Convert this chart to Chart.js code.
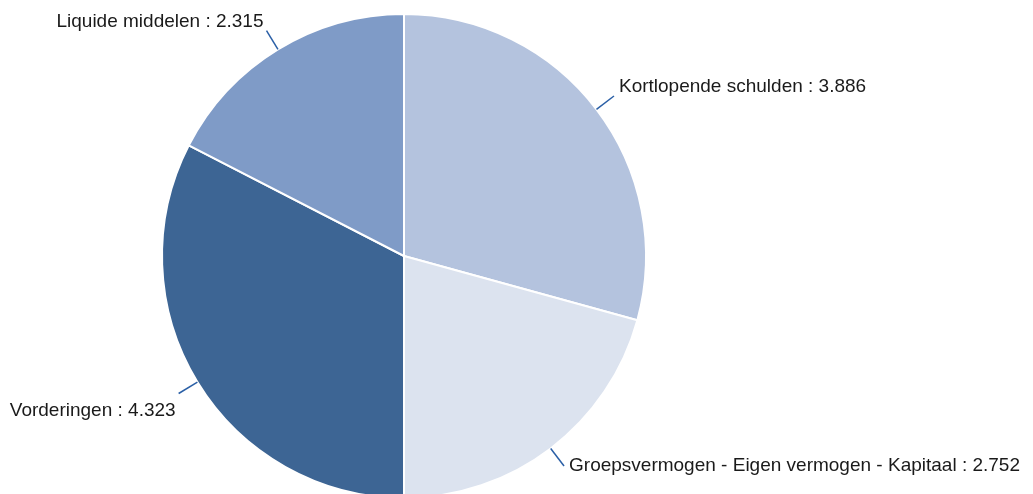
<!DOCTYPE html>
<html>
<head>
<meta charset="utf-8">
<script src="https://cdn.jsdelivr.net/npm/chart.js@4.4.1/dist/chart.umd.min.js"></script>
<style>
html,body{margin:0;padding:0;background:#fff;overflow:hidden;}
#wrap{position:relative;width:1033px;height:504px;}
</style>
</head>
<body>
<div id="wrap"><canvas id="c"></canvas></div>
<script>
const categories = ["Kortlopende schulden", "Groepsvermogen - Eigen vermogen - Kapitaal", "Vorderingen", "Liquide middelen"];
const values = [3.886, 2.752, 4.323, 2.315];
const valueLabels = ["3.886", "2.752", "4.323", "2.315"];
const colors = ["#b4c3de", "#dce3ef", "#3d6594", "#7f9bc7"];

const labelPlugin = {
  id: 'leaderLabels',
  afterDatasetsDraw(chart) {
    const ctx = chart.ctx;
    const meta = chart.getDatasetMeta(0);
    ctx.save();
    ctx.font = '19px "Liberation Sans", Arial, sans-serif';
    meta.data.forEach((arc, i) => {
      const p = arc.getProps(['x','y','startAngle','endAngle','outerRadius'], true);
      const mid = (p.startAngle + p.endAngle) / 2;
      const cx = Math.cos(mid), cy = Math.sin(mid);
      const r0 = p.outerRadius, r1 = p.outerRadius + 22;
      const x0 = p.x + cx * r0, y0 = p.y + cy * r0;
      const x1 = p.x + cx * r1, y1 = p.y + cy * r1;
      ctx.strokeStyle = '#2a5fa6';
      ctx.lineWidth = 1.5;
      ctx.beginPath(); ctx.moveTo(x0, y0); ctx.lineTo(x1, y1); ctx.stroke();
      const right = cx >= 0;
      const upper = cy < 0;
      let ty = y1 + (upper ? -9 : 17);
      ty = Math.min(ty, 466);
      ctx.fillStyle = '#1a1a1a';
      ctx.textBaseline = 'middle';
      ctx.textAlign = right ? 'left' : 'right';
      const tx = right ? x1 + 5 : x1 - 3;
      ctx.fillText(categories[i] + ' : ' + valueLabels[i], tx, ty);
    });
    ctx.restore();
  }
};

new Chart(document.getElementById('c'), {
  type: 'pie',
  data: {
    labels: categories,
    datasets: [{
      data: values,
      backgroundColor: colors,
      borderColor: '#ffffff',
      borderWidth: 2,
      hoverOffset: 0
    }]
  },
  options: {
    responsive: true,
    maintainAspectRatio: false,
    animation: false,
    layout: { padding: { left: 161, right: 386, top: 13, bottom: 5 } },
    plugins: { legend: { display: false }, tooltip: { enabled: false } }
  },
  plugins: [labelPlugin]
});
</script>
</body>
</html>
